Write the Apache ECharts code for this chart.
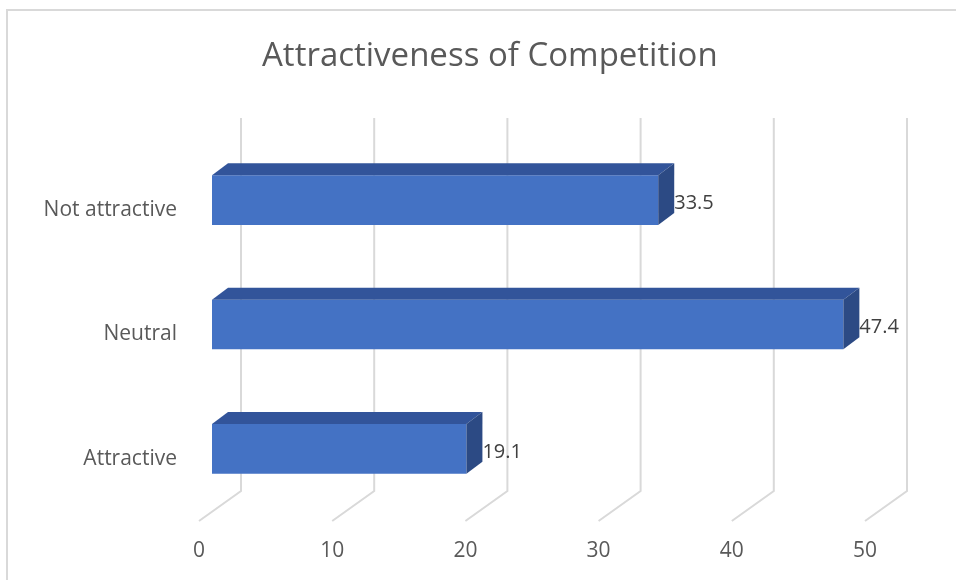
<!DOCTYPE html>
<html>
<head>
<meta charset="utf-8">
<script src="https://cdn.jsdelivr.net/npm/echarts@6/dist/echarts.min.js"></script>
<style>html,body{margin:0;padding:0;background:#fff}#c{width:956px;height:580px}</style>
</head>
<body>
<div id="c"></div>
<script>
var categories = ['Attractive', 'Neutral', 'Not attractive'];
var values = [19.1, 47.4, 33.5];
var ticks = [0, 10, 20, 30, 40, 50];
var titleText = 'Attractiveness of Competition';

var FONT = '"Open Sans", sans-serif';
var BACK_DX = 42, BACK_DY = -30;   // back plane offset
var BAR_DX = 13, BAR_DY = -10;     // bar front face offset from front plane
var DEPTH_DX = 16, DEPTH_DY = -12; // bar depth
var chart = echarts.init(document.getElementById('c'));

chart.setOption({
  animation: false,
  title: {
    text: titleText, left: 257, top: 35,
    textStyle: { fontFamily: FONT, fontSize: 33, fontWeight: 'normal', color: '#595959' }
  },
  graphic: [{
    type: 'rect', shape: { x: 7, y: 10, width: 980, height: 600 },
    style: { fill: 'none', stroke: '#d9d9d9', lineWidth: 2 }, z: -10
  }],
  grid: { left: 199, right: 91, top: 148, bottom: 59 },
  xAxis: {
    type: 'value', min: 0, max: 50, interval: 10,
    axisLine: { show: false }, axisTick: { show: false }, splitLine: { show: false },
    axisLabel: { margin: 20, color: '#595959', fontFamily: FONT, fontSize: 21 }
  },
  yAxis: {
    type: 'category', data: categories,
    axisLine: { show: false }, axisTick: { show: false },
    axisLabel: { margin: 22, color: '#595959', fontFamily: FONT, fontSize: 21 }
  },
  series: [{
    type: 'custom', z: 1,
    data: ticks.map(function (t) { return [t]; }),
    renderItem: function (params, api) {
      var cs = params.coordSys;
      var x = api.coord([api.value(0), 0])[0];
      var top = cs.y, bottom = cs.y + cs.height;
      return {
        type: 'polyline',
        shape: { points: [[x + BACK_DX, top + BACK_DY], [x + BACK_DX, bottom + BACK_DY], [x, bottom]] },
        style: { fill: 'none', stroke: '#d9d9d9', lineWidth: 2 }
      };
    }
  }, {
    type: 'custom', z: 2,
    data: values.map(function (v, i) { return [v, i]; }),
    renderItem: function (params, api) {
      var v = api.value(0), i = api.value(1);
      var p0 = api.coord([0, i]);
      var p1 = api.coord([v, i]);
      var band = api.size([0, 1])[1];
      var h = band * 0.4;
      var x0 = p0[0] + BAR_DX, x1 = p1[0] + BAR_DX;
      var yT = p0[1] + BAR_DY - h / 2, yB = yT + h;
      return {
        type: 'group',
        children: [{
          type: 'rect', shape: { x: x0, y: yT, width: x1 - x0, height: h },
          style: { fill: '#4472C4' }
        }, {
          type: 'polygon',
          shape: { points: [[x0, yT], [x0 + DEPTH_DX, yT + DEPTH_DY], [x1 + DEPTH_DX, yT + DEPTH_DY], [x1, yT]] },
          style: { fill: '#32549A' }
        }, {
          type: 'polygon',
          shape: { points: [[x1, yT], [x1 + DEPTH_DX, yT + DEPTH_DY], [x1 + DEPTH_DX, yB + DEPTH_DY], [x1, yB]] },
          style: { fill: '#2C4A84' }
        }, {
          type: 'text',
          style: {
            x: x1 + DEPTH_DX, y: yT + h / 2 + 3, text: String(v),
            fill: '#404040', font: '20px ' + FONT, verticalAlign: 'middle', align: 'left'
          }
        }]
      };
    }
  }]
});
</script>
</body>
</html>
